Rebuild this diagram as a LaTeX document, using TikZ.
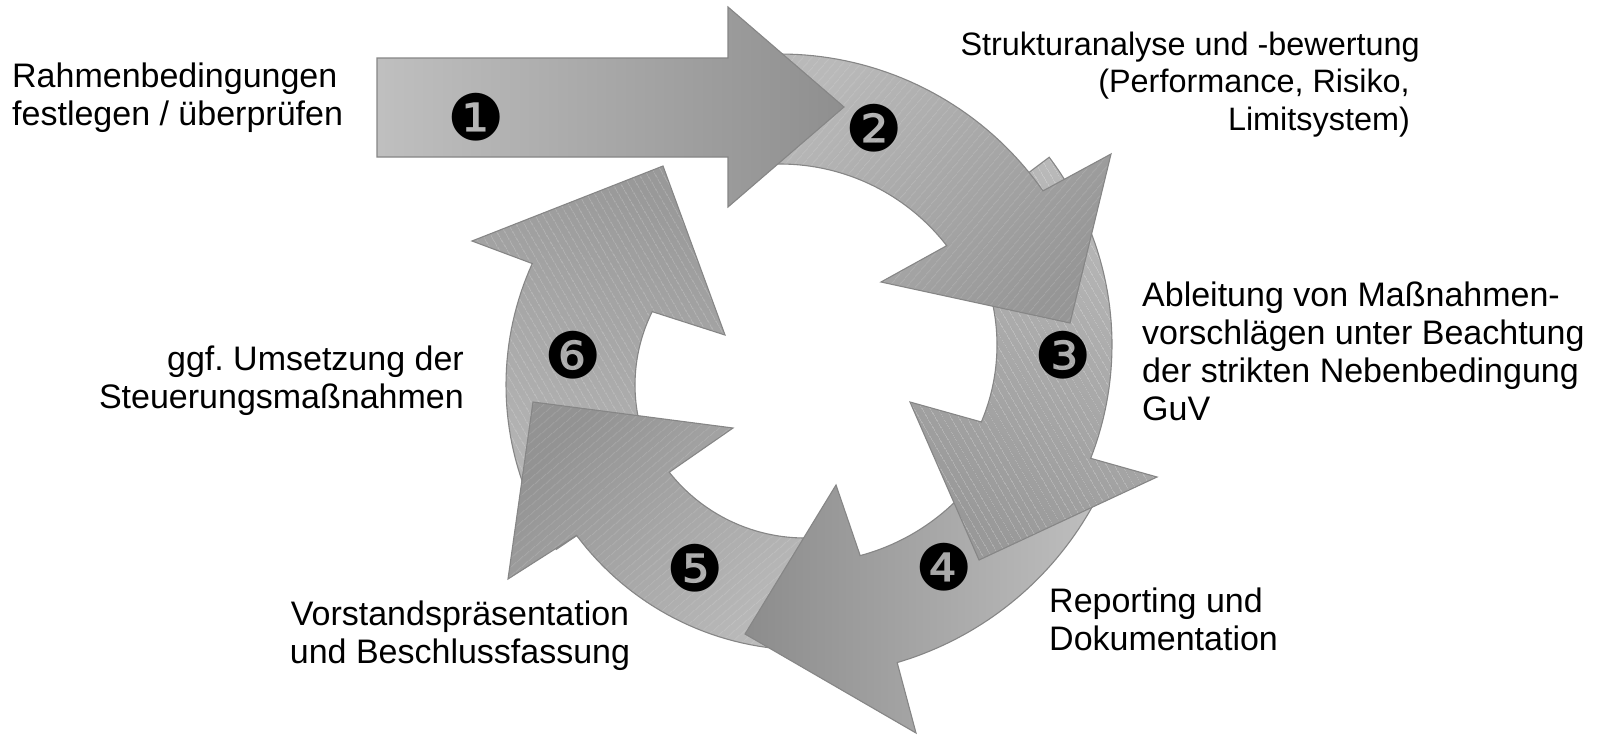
\documentclass[tikz,border=0pt]{standalone}
\usepackage{fontspec}
\setmainfont{Liberation Sans}
\newfontfamily\dingfont{DejaVu Sans}
\usetikzlibrary{patterns.meta}

\tikzset{
  hatch/.style={postaction={pattern={Lines[angle=#1,distance=6.5pt,line width=0.7pt]},pattern color=white,fill opacity=0.2}},
  cyc/.style={postaction={draw=gray!95,line width=1.1pt}},
  num/.style={font=\dingfont\fontsize{64}{64}\selectfont,inner sep=0pt},
  lbl/.style={font=\fontsize{34}{38}\selectfont,inner sep=0pt},
}

\begin{document}
\begin{tikzpicture}[x=1pt,y=-1pt]
\useasboundingbox[fill=white] (0,0) rectangle (1603,736);
% arrow 6 (left)
\path[top color=gray!80,bottom color=gray!55,shading angle=-20,hatch=120,cyc]
  plot[domain=146:204.4,samples=40] ({800+294*cos(\x)},{385+294*sin(\x)})
  -- (472,241) -- (663,166) -- (725,335)
  -- plot[domain=206.4:146,samples=40] ({800+165*cos(\x)},{385+165*sin(\x)}) -- cycle;
% arrow 5 (bottom left)
\path[top color=gray!85,bottom color=gray!52,shading angle=45,hatch=40,cyc]
  plot[domain=80:143.3,samples=40] ({805+285*cos(\x)},{365+285*sin(\x)})
  -- (508,579) -- (533,402) -- (733,428)
  -- plot[domain=141.7:80,samples=40] ({805+173*cos(\x)},{365+173*sin(\x)}) -- cycle;
% arrow 4 (bottom)
\path[top color=gray!50,bottom color=gray!90,shading angle=-90,cyc]
  plot[domain=25:73.6,samples=40] ({804+330*cos(\x)},{346+330*sin(\x)})
  -- (916,733) -- (745,634) -- (836,485)
  -- plot[domain=75:25,samples=40] ({804+217*cos(\x)},{346+217*sin(\x)}) -- cycle;
% arrow 3 (right)
\path[top color=gray!55,bottom color=gray!80,shading angle=-30,hatch=120,cyc]
  plot[domain=-37:21.3,samples=40] ({800+312*cos(\x)},{345+312*sin(\x)})
  -- (1157,477) -- (979,560) -- (910,402)
  -- plot[domain=23:-37,samples=40] ({800+197*cos(\x)},{345+197*sin(\x)}) -- cycle;
% arrow 2 (top)
\path[top color=gray!55,bottom color=gray!82,shading angle=45,hatch=50,cyc]
  plot[domain=-93:-35,samples=40] ({780+321*cos(\x)},{375+321*sin(\x)})
  -- (1111,154) -- (1070,323) -- (881,282)
  -- plot[domain=-37.8:-93,samples=40] ({780+211*cos(\x)},{375+211*sin(\x)}) -- cycle;
% straight arrow 1
\path[left color=gray!50,right color=gray!88,cyc]
  (377,58) -- (728,58) -- (728,7) -- (844,107) -- (728,207) -- (728,157) -- (377,157) -- cycle;

\node[num] (n1) at (476,117) {❶};
\node[num] (n2) at (874,128) {❷};
\node[num] (n3) at (1063,355) {❸};
\node[num] (n4) at (944,567) {❹};
\node[num] (n5) at (695,568) {❺};
\node[num] (n6) at (573,355) {❻};

\node[lbl,anchor=base west,align=left] (rahmen) at (12,125) {Rahmenbedingungen\\festlegen / überprüfen};
\node[lbl,font=\fontsize{32.4}{37.5}\selectfont,anchor=base east,align=right] (struktur) at (1420,130) {Strukturanalyse und -bewertung\\(Performance, Risiko,\kern10pt\\Limitsystem)\kern10pt};
\node[lbl,anchor=base west,align=left] (ableitung) at (1142,420) {Ableitung von Maßnahmen-\\vorschlägen unter Beachtung\\der strikten Nebenbedingung\\GuV};
\node[lbl,anchor=base west,align=left] (reporting) at (1049,650) {Reporting und\\Dokumentation};
\node[lbl,anchor=base,align=center] (vorstand) at (460,663) {Vorstandspräsentation\\und Beschlussfassung};
\node[lbl,anchor=base east,align=right] (umsetzung) at (464,408) {ggf.\ Umsetzung der\\Steuerungsmaßnahmen};
\end{tikzpicture}
\end{document}
